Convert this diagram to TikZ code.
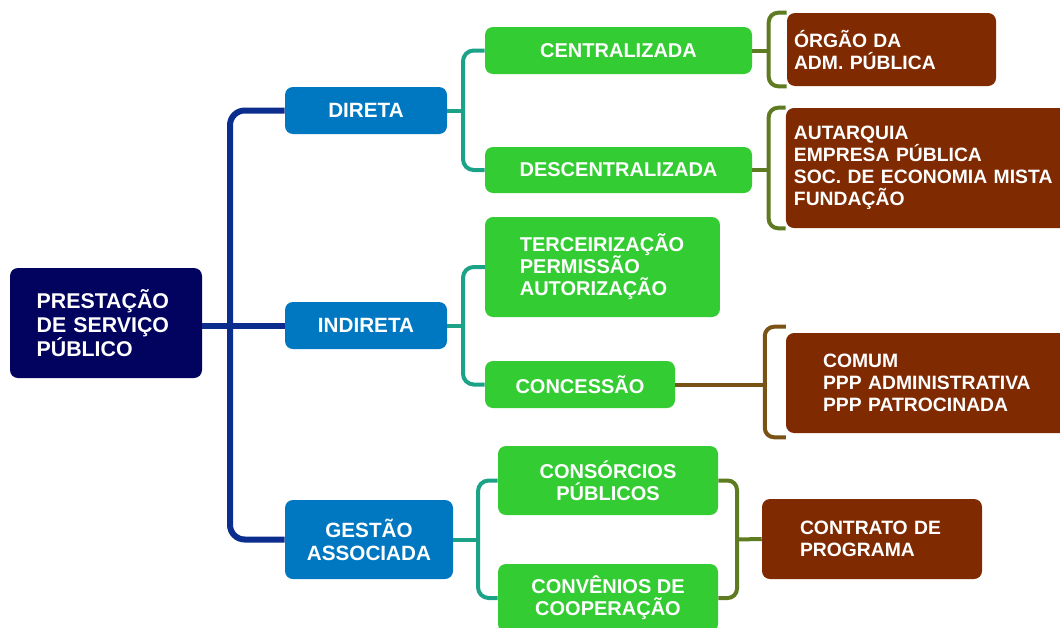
\documentclass[tikz,border=0pt]{standalone}
\usepackage{fontspec}
\setmainfont{Liberation Sans}
\usetikzlibrary{calc}
\definecolor{navyc}{HTML}{02025F}
\definecolor{bluec}{HTML}{0078C1}
\definecolor{greenc}{HTML}{33CC33}
\definecolor{brownc}{HTML}{7F2A00}
\definecolor{lineA}{HTML}{0B2D8E}
\definecolor{lineB}{HTML}{1CA286}
\definecolor{lineC}{HTML}{5E7B22}
\definecolor{lineD}{HTML}{7A5216}
\tikzset{
  box/.style={rounded corners=6pt, text=white, inner sep=0pt,
    font=\bfseries\fontsize{15}{16.5}\selectfont},
  rootbox/.style={box, fill=navyc, align=left,
    font=\bfseries\fontsize{16}{18}\selectfont},
  bluebox/.style={box, fill=bluec, align=center,
    font=\bfseries\fontsize{15.5}{17.25}\selectfont},
  greenbox/.style={box, fill=greenc, align=center},
  greenleft/.style={box, fill=greenc, align=left},
  brownbox/.style={box, fill=brownc, align=left,
    font=\bfseries\fontsize{14.5}{16.5}\selectfont},
  lvlA/.style={draw=lineA, line width=4.5pt, rounded corners=11pt},
  lvlB/.style={draw=lineB, line width=3pt, rounded corners=8pt},
  lvlC/.style={draw=lineC, line width=3pt, rounded corners=7pt},
  lvlD/.style={draw=lineD, line width=3pt, rounded corners=7pt},
}
\begin{document}
\begin{tikzpicture}[x=0.75pt,y=-0.75pt]
\useasboundingbox (0,0) rectangle (1060,628);

% nodes
\node[rootbox, text width=104pt, inner xsep=20pt, minimum height=82.5pt] (root) at (106,323)
  {PRESTAÇÃO\\DE SERVIÇO\\PÚBLICO};
\node[bluebox, minimum width=121.5pt, minimum height=35.25pt] (direta) at (366,110.5) {DIRETA};
\node[bluebox, minimum width=121.5pt, minimum height=35.25pt] (indireta) at (366,325.5) {INDIRETA};
\node[bluebox, minimum width=126pt, minimum height=59.25pt] (gestao) at (369,539.5) {GESTÃO\\ASSOCIADA};

\node[greenbox, minimum width=200.25pt, minimum height=35.25pt] (central) at (618.5,50.5) {CENTRALIZADA};
\node[greenbox, minimum width=200.25pt, minimum height=34.5pt] (descent) at (618.5,170) {DESCENTRALIZADA};
\node[greenleft, text width=124pt, inner xsep=26.1pt, minimum height=75pt] (terc) at (602.5,267)
  {TERCEIRIZAÇÃO\\PERMISSÃO\\AUTORIZAÇÃO};
\node[greenbox, minimum width=142.5pt, minimum height=35.25pt] (conc) at (580,384.5) {CONCESSÃO};
\node[greenbox, minimum width=165pt, minimum height=51.75pt] (consor) at (608,480.5) {CONSÓRCIOS\\PÚBLICOS};
\node[greenbox, minimum width=165pt, minimum height=51pt] (conven) at (608,598) {CONVÊNIOS DE\\COOPERAÇÃO};

\node[brownbox, text width=146.25pt, inner xsep=5.25pt, minimum height=54.75pt] (orgao) at (891.5,49.5)
  {ÓRGÃO DA\\ADM. PÚBLICA};
\node[brownbox, text width=200pt, inner xsep=6pt, minimum height=90pt] (autarq) at (927.3,168)
  {AUTARQUIA\\EMPRESA PÚBLICA\\SOC. DE ECONOMIA MISTA\\FUNDAÇÃO};
\node[brownbox, text width=190pt, inner xsep=27.75pt, minimum height=75pt] (comum) at (949.7,383)
  {COMUM\\PPP ADMINISTRATIVA\\PPP PATROCINADA};
\node[brownbox, text width=108pt, inner xsep=28.5pt, minimum height=60pt] (contrato) at (872,539)
  {CONTRATO DE\\PROGRAMA};

% junction coordinates
\coordinate (tk) at (230,325);
\coordinate (j1) at (463,110.5);
\coordinate (j2) at (463,325.5);
\coordinate (j3) at (478,539.5);
\coordinate (j4) at (737,539.5);

% level 1
\draw[lvlA] (indireta.west -| root.east) -- (indireta.west);
\draw[lvlA] (direta.west) -| (tk) |- (gestao.west);

% level 2
\draw[lvlB] (direta.east) -- (j1);
\draw[lvlB] (central.west) -| (j1) |- (descent.west);
\draw[lvlB] (indireta.east) -- (j2);
\draw[lvlB] (terc.west) -| (j2) |- (conc.west);
\draw[lvlB] (gestao.east) -- (j3);
\draw[lvlB] (consor.west) -| (j3) |- (conven.west);

% level 3
\draw[lvlC] (consor.east) -| (j4) |- (conven.east);
\draw[lvlC] (j4) -- (contrato.west);

% brackets
\draw[lvlC] (orgao.north west) -- ++(-18,0) coordinate (b1) |- (orgao.south west);
\draw[lvlC] (central.east) -- (central.east -| b1);
\draw[lvlC] (autarq.north west) -- ++(-17,0) coordinate (b2) |- (autarq.south west);
\draw[lvlC] (descent.east) -- (descent.east -| b2);
\draw[lvlD] ([yshift=4.5pt]comum.north west) -- ++(-21,0) coordinate (b3) |- ([yshift=-3pt]comum.south west);
\draw[lvlD] (conc.east) -- (conc.east -| b3);
\end{tikzpicture}
\end{document}
